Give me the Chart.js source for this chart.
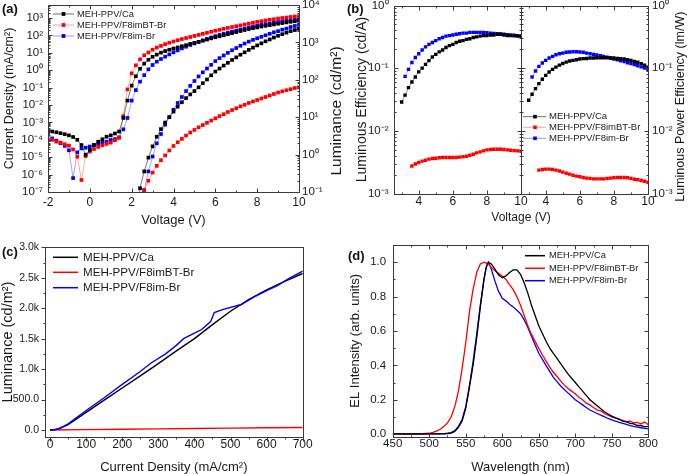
<!DOCTYPE html>
<html>
<head>
<meta charset="utf-8">
<title>MEH-PPV device characteristics</title>
<script src="https://cdn.jsdelivr.net/npm/chart.js@4.4.1/dist/chart.umd.min.js"></script>
<style>
  html, body { margin: 0; padding: 0; background: #ffffff; }
  #fig { position: relative; width: 690px; height: 474px; overflow: hidden; background: #ffffff; }
  #fig canvas { position: absolute; display: block; }
</style>
</head>
<body>
<div id="fig">
  <canvas id="cA" width="345" height="240" style="left:0px;top:0px;width:345px;height:240px"></canvas>
  <canvas id="cB" width="345" height="240" style="left:345px;top:0px;width:345px;height:240px"></canvas>
  <canvas id="cC" width="345" height="234" style="left:0px;top:240px;width:345px;height:234px"></canvas>
  <canvas id="cD" width="345" height="234" style="left:345px;top:240px;width:345px;height:234px"></canvas>
</div>
<script>
// ---------------- DATA ----------------
const seriesNames = ['MEH-PPV/Ca', 'MEH-PPV/F8imBT-Br', 'MEH-PPV/F8im-Br'];

// (a) J-V-L
const voltageA = [-2.0,-1.8,-1.6,-1.4,-1.2,-1.0,-0.8,-0.6,-0.4,-0.2,0.0,0.2,0.4,0.6,0.8,1.0,1.2,1.4,1.6,1.8,2.0,2.2,2.4,2.6,2.8,3.0,3.2,3.4,3.6,3.8,4.0,4.2,4.4,4.6,4.8,5.0,5.2,5.4,5.6,5.8,6.0,6.2,6.4,6.6,6.8,7.0,7.2,7.4,7.6,7.8,8.0,8.2,8.4,8.6,8.8,9.0,9.2,9.4,9.6,9.8,10.0];
const currentCa = [3.5e-4,3.0e-4,2.7e-4,2.4e-4,2.1e-4,1.8e-4,1.45e-4,1.0e-4,5.0e-5,1.4e-5,
  2.6e-5,5.0e-5,7.8e-5,1.07e-4,1.5e-4,1.8e-4,2.3e-4,3.0e-4,1.8e-3,1.8e-2,
  0.13,0.45,1.2,2.4,4.0,5.9,7.9,10.2,12.6,15.1,
  17.8,20.4,24,27.5,32.4,37.2,42.7,50,57.5,67.6,
  78,89,102,117,135,155,178,204,234,262,
  290,322,355,390,430,470,513,560,605,655,
  708];
const currentF8imBT = [1.07e-4,1.0e-4,7.8e-5,6.9e-5,5.5e-5,4.6e-5,2.8e-5,1.07e-5,4.9e-7,1.17e-5,
  2.1e-5,2.95e-5,3.9e-5,4.8e-5,5.75e-5,6.9e-5,9.5e-5,1.3e-4,2.3e-3,7.9e-2,
  0.66,1.9,4.2,7.2,10.5,15.1,20,25,31.6,38,
  44.7,52.5,61.7,70.8,81.3,93.3,107,123,141,162,
  186,209,240,269,302,339,380,427,479,537,
  603,661,724,794,851,933,1000,1070,1150,1230,
  1290];
const currentF8im = [2.0e-4,1.2e-4,8.9e-5,6.3e-5,4.5e-5,2.5e-5,6.3e-7,1.9e-5,3.2e-5,3.5e-5,
  4.1e-5,5.0e-5,5.75e-5,6.9e-5,7.8e-5,9.8e-5,1.1e-4,1.4e-4,4.0e-4,1.8e-3,
  1.8e-2,7.2e-2,0.22,0.52,1.12,2.0,3.1,4.4,6.0,8.1,
  10.7,13.8,17.8,22.4,28.2,34.7,42.7,51.3,63,76,
  91,107,126,145,166,191,219,251,288,324,
  363,407,447,490,537,589,631,692,741,794,
  851];
const luminanceCa = [null,null,null,null,null,null,null,null,null,null,
  null,null,null,null,null,null,null,null,null,null,
  null,0.016,0.126,0.355,0.83,1.66,3.0,4.8,7.2,10,
  14.1,19.1,25.1,32.4,40.7,50,63,81,102,132,
  166,200,240,285,339,398,468,543,631,724,
  832,944,1070,1200,1350,1500,1660,1820,2000,2140,
  2290];
const luminanceF8imBT = [null,null,null,null,null,null,null,null,null,null,
  null,null,null,null,null,null,null,null,null,null,
  null,null,0.032,0.112,0.2,0.33,0.5,0.71,0.95,1.29,
  1.7,2.14,2.63,3.24,3.89,4.57,5.37,6.17,7.08,8.13,
  9.33,10.7,12.0,13.8,15.5,17.4,19.5,21.4,24,26.3,
  28.8,31.6,34.7,38,41.7,45.7,49,52.5,56.2,60.3,
  63];
const luminanceF8im = [null,null,null,null,null,null,null,null,null,null,
  null,null,null,null,null,null,null,null,null,null,
  null,null,0.016,0.112,0.355,0.89,2.0,3.55,6.3,10,
  15.8,24,34.7,50,69,93,123,158,200,251,
  316,380,447,525,617,708,813,933,1050,1170,
  1290,1410,1550,1700,1860,2000,2190,2340,2570,2750,
  2950];

// (b) efficiencies
const voltageB = [3.0,3.2,3.4,3.6,3.8,4.0,4.2,4.4,4.6,4.8,5.0,5.2,5.4,5.6,5.8,6.0,6.2,6.4,6.6,6.8,7.0,7.2,7.4,7.6,7.8,8.0,8.2,8.4,8.6,8.8,9.0,9.2,9.4,9.6,9.8,10.0];
const effCa = [0.0288,0.0372,0.049,0.0603,0.0724,0.0871,0.1,0.115,0.132,0.151,
  0.166,0.182,0.195,0.214,0.229,0.240,0.257,0.269,0.275,0.288,
  0.295,0.309,0.316,0.324,0.331,0.331,0.339,0.339,0.347,0.347,
  0.339,0.331,0.331,0.327,0.324,0.324];
const effF8imBT = [null,null,null,0.00275,0.00295,0.00313,0.00328,0.0034,0.00353,0.00362,
  0.00366,0.00371,0.00375,0.00375,0.00375,0.00375,0.00375,0.0038,0.00385,0.00394,
  0.00408,0.00424,0.00445,0.00462,0.00479,0.00497,0.00504,0.00509,0.00509,0.00509,
  0.00504,0.00497,0.00491,0.00484,0.00479,0.00473];
const effF8im = [null,0.0741,0.0955,0.123,0.148,0.170,0.195,0.219,0.240,0.257,
  0.275,0.295,0.309,0.324,0.331,0.339,0.347,0.355,0.363,0.363,
  0.372,0.372,0.372,0.372,0.372,0.367,0.363,0.359,0.355,0.351,
  0.347,0.343,0.339,0.335,0.331,0.324];
const powCa = [0.0307,0.0383,0.0471,0.0566,0.0664,0.0768,0.0868,0.0957,0.104,0.112,
  0.119,0.125,0.130,0.133,0.136,0.140,0.142,0.143,0.145,0.145,
  0.147,0.147,0.147,0.147,0.145,0.145,0.143,0.142,0.140,0.136,
  0.133,0.128,0.124,0.118,0.112,0.104];
const powF8imBT = [null,null,null,0.00236,0.00242,0.00245,0.00245,0.00242,0.00236,0.00228,
  0.00219,0.00211,0.00204,0.00196,0.00189,0.00185,0.0018,0.00176,0.00174,0.00171,
  0.00171,0.00171,0.00171,0.00174,0.00176,0.00178,0.0018,0.0018,0.0018,0.00178,
  0.00174,0.00169,0.00166,0.00161,0.00157,0.00151];
const powF8im = [null,0.0722,0.090,0.107,0.121,0.133,0.145,0.154,0.164,0.170,
  0.174,0.179,0.181,0.183,0.183,0.181,0.179,0.174,0.170,0.166,
  0.162,0.158,0.154,0.150,0.145,0.140,0.136,0.131,0.127,0.122,
  0.118,0.114,0.109,0.105,0.1005,0.0946];

// (c) luminance vs current density
const jdCa = [0,10,25,50,100,150,200,250,300,350,400,450,500,550,600,650,700];
const lumJCa = [0,3,25,90,290,490,690,890,1090,1300,1500,1730,1950,2140,2300,2440,2570];
const jdF8imBT = [0,100,200,300,400,500,600,700];
const lumJF8imBT = [0,6,12,18,25,30,36,42];
const jdF8im = [0,10,25,50,100,150,200,250,280,320,350,370,400,420,445,455,480,530,570,600,630,660,700];
const lumJF8im = [0,2,20,100,320,530,750,960,1100,1250,1390,1500,1590,1650,1780,1930,1980,2060,2200,2290,2370,2480,2610];

// (d) EL spectra
const wavelength = [450,460,470,480,490,500,505,510,515,520,525,530,535,540,545,550,555,560,565,570,575,578,581,585,590,595,600,605,610,615,620,625,630,635,640,645,650,655,660,665,670,675,680,685,690,695,700,705,710,715,720,725,730,735,740,745,750,755,760,765,770,775,780,785,790,795,800];
const elCa = [0.002,0.002,0.002,0.002,0.002,
  0.002,0.002,0.002,0.002,0.002,0.003,0.006,0.016,0.04,0.075,
  0.15,0.27,0.40,0.56,0.74,0.90,0.97,1.0,0.99,0.96,
  0.925,0.91,0.92,0.94,0.955,0.955,0.93,0.88,0.82,0.75,
  0.69,0.63,0.585,0.54,0.50,0.47,0.44,0.41,0.38,0.35,
  0.325,0.30,0.275,0.25,0.225,0.20,0.183,0.165,0.147,0.13,
  0.117,0.105,0.095,0.087,0.075,0.072,0.062,0.06,0.05,0.05,
  0.042,0.045];
const elF8imBT = [0.003,0.002,0.002,0.002,0.003,
  0.005,0.01,0.018,0.028,0.045,0.065,0.10,0.16,0.25,0.38,
  0.53,0.71,0.84,0.94,0.99,1.0,0.995,0.99,0.97,0.95,
  0.935,0.92,0.90,0.87,0.84,0.80,0.75,0.69,0.63,0.58,
  0.54,0.50,0.46,0.425,0.39,0.36,0.335,0.31,0.285,0.265,
  0.25,0.235,0.215,0.2,0.18,0.17,0.155,0.14,0.135,0.12,
  0.11,0.10,0.095,0.085,0.08,0.072,0.075,0.065,0.068,0.06,
  0.07,0.055];
const elF8im = [0.0,0.0,0.0,0.0,0.0,
  0.001,0.001,0.002,0.002,0.003,0.005,0.009,0.02,0.045,0.085,
  0.16,0.28,0.42,0.58,0.75,0.90,0.97,1.0,0.96,0.89,
  0.83,0.79,0.775,0.755,0.74,0.72,0.70,0.665,0.62,0.57,
  0.52,0.47,0.435,0.40,0.365,0.33,0.305,0.28,0.26,0.24,
  0.22,0.20,0.185,0.17,0.155,0.14,0.13,0.12,0.11,0.10,
  0.091,0.083,0.075,0.068,0.062,0.056,0.05,0.045,0.041,0.037,
  0.033,0.03];

// tick values / labels
const ticksA_x = [-2, 0, 2, 4, 6, 8, 10];
const ticksA_J = [1e-7, 1e-6, 1e-5, 1e-4, 1e-3, 1e-2, 1e-1, 1, 10, 100, 1000];
const ticksA_L = [0.1, 1, 10, 100, 1000, 10000];
const ticksB_x = [4, 6, 8, 10];
const ticksB_y = [0.001, 0.01, 0.1, 1];
const ticksC_x = [0, 100, 200, 300, 400, 500, 600, 700];
const ticksC_y = [0, 500, 1000, 1500, 2000, 2500, 3000];
const labelsC_y = ['0.0', '500.0', '1.0k', '1.5k', '2.0k', '2.5k', '3.0k'];
const ticksD_x = [450, 500, 550, 600, 650, 700, 750, 800];
const ticksD_y = [0, 0.2, 0.4, 0.6, 0.8, 1.0];
const labelsD_y = ['0.0', '0.2', '0.4', '0.6', '0.8', '1.0'];

// ---------------- STYLE ----------------
const FONT = "'Liberation Sans', Arial, Helvetica, sans-serif";
const TEXT = '#1a1a1a';
const FRAME = '#3a3a3a';
const MARK = ['#000000', '#ff0000', '#0000ff'];
const LINK = ['rgba(60,60,60,0.75)', 'rgba(255,80,80,0.55)', 'rgba(70,70,255,0.55)'];
const SOLID = ['#000000', '#ff0000', '#0000ff'];

Chart.defaults.font.family = FONT;
Chart.defaults.color = TEXT;
Chart.defaults.animation = false;

const SUP = {'-':'\u207B','0':'\u2070','1':'\u00B9','2':'\u00B2','3':'\u00B3','4':'\u2074','5':'\u2075','6':'\u2076','7':'\u2077','8':'\u2078','9':'\u2079'};
function pow10Label(v) {
  const e = Math.round(Math.log10(v));
  return '10' + String(e).split('').map(c => SUP[c]).join('');
}
function pts(xs, ys) {
  const out = [];
  for (let i = 0; i < xs.length; i++) if (ys[i] !== null && ys[i] !== undefined) out.push({ x: xs[i], y: ys[i] });
  return out;
}
function axis(o) {
  const a = {
    type: o.type || 'linear', position: o.position, min: o.min, max: o.max, bounds: 'data',
    grid: { display: false, drawTicks: false }, border: { display: false },
    afterBuildTicks: s => { s.ticks = o.ticks.map(v => ({ value: v })); },
    afterFit: s => {
      if (s.isHorizontal()) s.height = o.size; else s.width = o.size;
      s.paddingTop = 0; s.paddingBottom = 0; s.paddingLeft = 0; s.paddingRight = 0;
    },
    ticks: { padding: o.pad, autoSkip: false, maxRotation: 0, minRotation: 0, color: TEXT,
      font: { size: o.fs || 12, family: FONT }, callback: o.labels },
    title: o.title ? { display: true, text: o.title, color: TEXT,
      font: { size: o.tfs || 13, family: FONT, lineHeight: 1 }, padding: o.titlePad } : { display: false }
  };
  if (o.stack) { a.stack = o.stack; a.stackWeight = 1; }
  return a;
}
function markerDS(data, k, xId, yId, r, w) {
  return { data, label: seriesNames[k], xAxisID: xId, yAxisID: yId,
    borderColor: LINK[k], borderWidth: w, backgroundColor: MARK[k],
    pointStyle: 'rect', pointRadius: r, pointHoverRadius: r, pointBorderWidth: 0,
    pointBackgroundColor: MARK[k], tension: 0, fill: false, spanGaps: false };
}
function lineDS(data, k, w, order) {
  return { data, label: seriesNames[k], xAxisID: 'x', yAxisID: 'y', order,
    borderColor: SOLID[k], borderWidth: w, pointRadius: 0, pointHoverRadius: 0,
    tension: 0, fill: false };
}

function edgePos(chart, e) {
  const a = chart.chartArea;
  if (e === 'L') return a.left; if (e === 'R') return a.right;
  if (e === 'T') return a.top; if (e === 'B') return a.bottom;
  const p = e.split('.'); return chart.scales[p[0]][p[1]];
}
function tickVals(s, t) {
  const out = [];
  if (t.kind === 'log') {
    const e0 = Math.floor(Math.log10(s.min)), e1 = Math.ceil(Math.log10(s.max));
    for (let e = e0; e <= e1; e++) for (let k = 1; k <= 9; k++) {
      const v = k * Math.pow(10, e);
      if (v >= s.min * 0.9999 && v <= s.max * 1.0001) out.push([v, k === 1]);
    }
  } else {
    const n0 = Math.ceil(s.min / t.minor - 1e-9), n1 = Math.floor(s.max / t.minor + 1e-9);
    for (let n = n0; n <= n1; n++) {
      const v = n * t.minor, r = v / t.major;
      out.push([v, Math.abs(r - Math.round(r)) < 1e-6]);
    }
  }
  return out;
}
function makeDecor(cfg) {
  return {
    id: 'decor',
    afterDraw(chart) {
      const ctx = chart.ctx, a = chart.chartArea;
      ctx.save();
      ctx.strokeStyle = FRAME; ctx.lineWidth = 1;
      const L = Math.round(a.left), T = Math.round(a.top), R = Math.round(a.right), B = Math.round(a.bottom);
      ctx.strokeRect(L + 0.5, T + 0.5, R - L, B - T);
      (cfg.dividers || []).forEach(d => {
        const x = Math.round(edgePos(chart, d)) + 0.5;
        ctx.beginPath(); ctx.moveTo(x, T); ctx.lineTo(x, B + 1); ctx.stroke();
      });
      (cfg.ticks || []).forEach(t => {
        const s = chart.scales[t.id];
        const horiz = s.isHorizontal();
        const lo = horiz ? s.left : s.top, hi = horiz ? s.right : s.bottom;
        tickVals(s, t).forEach(([v, major]) => {
          const p = s.getPixelForValue(v);
          if (p < lo - 0.6 || p > hi + 0.6) return;
          const len = major ? 4 : 2;
          const pp = Math.round(p) + 0.5;
          t.at.forEach(([edge, dir]) => {
            const e = Math.round(edgePos(chart, edge)) + 0.5;
            ctx.beginPath();
            if (horiz) { ctx.moveTo(pp, e); ctx.lineTo(pp, e + dir * len); }
            else { ctx.moveTo(e, pp); ctx.lineTo(e + dir * len, pp); }
            ctx.stroke();
          });
        });
      });
      if (cfg.legend) {
        const g = cfg.legend;
        ctx.font = g.size + 'px ' + FONT; ctx.textBaseline = 'middle'; ctx.textAlign = 'left';
        seriesNames.forEach((name, k) => {
          const y = g.ys[k];
          ctx.strokeStyle = g.marker ? LINK[k] : SOLID[k]; ctx.lineWidth = g.lw;
          ctx.beginPath(); ctx.moveTo(g.x0, y); ctx.lineTo(g.x1, y); ctx.stroke();
          if (g.marker) { ctx.fillStyle = MARK[k]; ctx.fillRect(g.mx - g.marker / 2, y - g.marker / 2, g.marker, g.marker); }
          ctx.fillStyle = TEXT; ctx.fillText(name, g.tx, y);
        });
      }
      if (cfg.label) {
        ctx.font = 'bold 13px ' + FONT; ctx.fillStyle = '#111'; ctx.textBaseline = 'middle'; ctx.textAlign = 'left';
        ctx.fillText(cfg.label.text, cfg.label.x, cfg.label.y);
      }
      if (cfg.rightTitle) {
        const r = cfg.rightTitle;
        ctx.save(); ctx.translate(r.x, r.y); ctx.rotate(-Math.PI / 2);
        ctx.font = r.size + 'px ' + FONT; ctx.fillStyle = TEXT; ctx.textAlign = 'center'; ctx.textBaseline = 'middle';
        ctx.fillText(r.text, 0, 0); ctx.restore();
      }
      ctx.restore();
    }
  };
}
const baseOpts = (padding) => ({
  responsive: false, animation: false, devicePixelRatio: 1,
  layout: { padding, autoPadding: false },
  plugins: { legend: { display: false }, tooltip: { enabled: false }, title: { display: false } },
  events: []
});

// ---------------- (a) ----------------
(function () {
  const opts = baseOpts({ top: 5, right: 0, bottom: 0, left: 0 });
  opts.scales = {
    x: axis({ position: 'bottom', min: -2, max: 10, ticks: ticksA_x, size: 48, pad: 3,
      title: 'Voltage (V)', titlePad: { top: 0, bottom: 13.5 } }),
    yJ: axis({ type: 'logarithmic', position: 'left', min: 1e-7, max: 5600, ticks: ticksA_J, size: 48, pad: 5, fs: 11.5,
      labels: v => pow10Label(v), title: 'Current Density (mA/cm\u00B2)', tfs: 12.5, titlePad: { top: 3.7, bottom: 0 } }),
    yLum: axis({ type: 'logarithmic', position: 'right', min: 0.1, max: 10000, ticks: ticksA_L, size: 46, pad: 3, fs: 11.5,
      labels: v => pow10Label(v) })
  };
  new Chart(document.getElementById('cA'), {
    type: 'line',
    data: { datasets: [
      markerDS(pts(voltageA, currentCa), 0, 'x', 'yJ', 2.6, 0.9),
      markerDS(pts(voltageA, currentF8imBT), 1, 'x', 'yJ', 2.6, 0.9),
      markerDS(pts(voltageA, currentF8im), 2, 'x', 'yJ', 2.6, 0.9),
      markerDS(pts(voltageA, luminanceCa), 0, 'x', 'yLum', 2.6, 0.9),
      markerDS(pts(voltageA, luminanceF8imBT), 1, 'x', 'yLum', 2.6, 0.9),
      markerDS(pts(voltageA, luminanceF8im), 2, 'x', 'yLum', 2.6, 0.9)
    ] },
    options: opts,
    plugins: [makeDecor({
      ticks: [
        { id: 'x', kind: 'lin', major: 2, minor: 1, at: [['B', -1], ['T', 1]] },
        { id: 'yJ', kind: 'log', at: [['L', 1]] },
        { id: 'yLum', kind: 'log', at: [['R', -1]] }
      ],
      legend: { x0: 53, x1: 74, mx: 63.5, tx: 77, ys: [14, 25, 36], size: 9.3, lw: 1, marker: 3.8 },
      label: { text: '(a)', x: 2, y: 9.5 },
      rightTitle: { text: 'Luminance (cd/m\u00B2)', x: 336.5, y: 111, size: 15.5 }
    })]
  });
})();

// ---------------- (b) ----------------
(function () {
  const opts = baseOpts({ top: 5.5, right: 0, bottom: 0, left: 0 });
  opts.plugins.title = { display: true, text: 'Voltage (V)', position: 'bottom', fullSize: false, color: TEXT,
    font: { size: 12, weight: 'normal', family: FONT, lineHeight: 1 }, padding: { top: 2.4, bottom: 16.1 } };
  opts.scales = {
    x1: axis({ position: 'bottom', stack: 'v', min: 2.55, max: 10, ticks: ticksB_x, size: 16, pad: 0.5 }),
    x2: axis({ position: 'bottom', stack: 'v', min: 2.55, max: 10, ticks: ticksB_x, size: 16, pad: 0.5 }),
    yL: axis({ type: 'logarithmic', position: 'left', min: 0.001, max: 1, ticks: ticksB_y, size: 49, pad: 5.5, fs: 11.5,
      labels: v => pow10Label(v), title: 'Luminous Efficiency (cd/A)', tfs: 14, titlePad: { top: 10.3, bottom: 0 } }),
    yR: axis({ type: 'logarithmic', position: 'right', min: 0.001, max: 1, ticks: ticksB_y, size: 42, pad: 4, fs: 11.5,
      labels: v => pow10Label(v) })
  };
  new Chart(document.getElementById('cB'), {
    type: 'line',
    data: { datasets: [
      markerDS(pts(voltageB, effCa), 0, 'x1', 'yL', 2.4, 0.8),
      markerDS(pts(voltageB, effF8imBT), 1, 'x1', 'yL', 2.4, 0.8),
      markerDS(pts(voltageB, effF8im), 2, 'x1', 'yL', 2.4, 0.8),
      markerDS(pts(voltageB, powCa), 0, 'x2', 'yR', 2.4, 0.8),
      markerDS(pts(voltageB, powF8imBT), 1, 'x2', 'yR', 2.4, 0.8),
      markerDS(pts(voltageB, powF8im), 2, 'x2', 'yR', 2.4, 0.8)
    ] },
    options: opts,
    plugins: [makeDecor({
      dividers: ['x1.right'],
      ticks: [
        { id: 'x1', kind: 'lin', major: 2, minor: 1, at: [['B', -1], ['T', 1]] },
        { id: 'x2', kind: 'lin', major: 2, minor: 1, at: [['B', -1], ['T', 1]] },
        { id: 'yL', kind: 'log', at: [['L', 1], ['x1.right', -1]] },
        { id: 'yR', kind: 'log', at: [['R', -1], ['x2.left', 1]] }
      ],
      legend: { x0: 178, x1: 201, mx: 190, tx: 204, ys: [116.7, 127.3, 138.3], size: 9.5, lw: 1, marker: 3.6 },
      label: { text: '(b)', x: 2, y: 9.5 },
      rightTitle: { text: 'Luminous Power Efficiency (lm/W)', x: 335.7, y: 106.7, size: 12.5 }
    })]
  });
})();

// ---------------- (c) ----------------
(function () {
  const opts = baseOpts({ top: 7.3, right: 42.3, bottom: 0, left: 0 });
  opts.scales = {
    x: axis({ position: 'bottom', min: -14, max: 700, ticks: ticksC_x, size: 37.3, pad: 1,
      title: 'Current Density (mA/cm\u00B2)', titlePad: { top: 0, bottom: 0 } }),
    y: axis({ position: 'left', min: -110, max: 3000, ticks: ticksC_y, size: 45, pad: 6, fs: 10.5,
      labels: (v, i) => labelsC_y[i], title: 'Luminance (cd/m\u00B2)', tfs: 14.5, titlePad: { top: 0.3, bottom: 0 } })
  };
  new Chart(document.getElementById('cC'), {
    type: 'line',
    data: { datasets: [
      lineDS(pts(jdCa, lumJCa), 0, 1.4, 1),
      lineDS(pts(jdF8imBT, lumJF8imBT), 1, 1.4, 2),
      lineDS(pts(jdF8im, lumJF8im), 2, 1.4, 0)
    ] },
    options: opts,
    plugins: [makeDecor({
      ticks: [
        { id: 'x', kind: 'lin', major: 100, minor: 50, at: [['B', 1]] },
        { id: 'y', kind: 'lin', major: 500, minor: 250, at: [['L', -1]] }
      ],
      legend: { x0: 53, x1: 78, tx: 83, ys: [17.3, 32.3, 47.7], size: 11.6, lw: 1.5 },
      label: { text: '(c)', x: 2, y: 12.3 }
    })]
  });
})();

// ---------------- (d) ----------------
(function () {
  const opts = baseOpts({ top: 5, right: 41.7, bottom: 0, left: 0 });
  opts.scales = {
    x: axis({ position: 'bottom', min: 450, max: 800, ticks: ticksD_x, size: 37.3, pad: 0.5, fs: 11.5,
      title: 'Wavelength (nm)', titlePad: { top: 0, bottom: 0.2 } }),
    y: axis({ position: 'left', min: -0.015, max: 1.1, ticks: ticksD_y, size: 47.7, pad: 6.5, fs: 11.5,
      labels: (v, i) => labelsD_y[i], title: 'EL Intensity (arb. units)', titlePad: { top: 4.2, bottom: 0 } })
  };
  new Chart(document.getElementById('cD'), {
    type: 'line',
    data: { datasets: [
      lineDS(pts(wavelength, elCa), 0, 1.3, 0),
      lineDS(pts(wavelength, elF8imBT), 1, 1.3, 1),
      lineDS(pts(wavelength, elF8im), 2, 1.3, 2)
    ] },
    options: opts,
    plugins: [makeDecor({
      ticks: [
        { id: 'x', kind: 'lin', major: 50, minor: 25, at: [['B', -1], ['T', 1]] },
        { id: 'y', kind: 'lin', major: 0.2, minor: 0.1, at: [['L', 1], ['R', -1]] }
      ],
      legend: { x0: 180, x1: 200, tx: 204, ys: [15.7, 28.3, 40.7], size: 9.3, lw: 1.5 },
      label: { text: '(d)', x: 3, y: 16.7 }
    })]
  });
})();
</script>
</body>
</html>
